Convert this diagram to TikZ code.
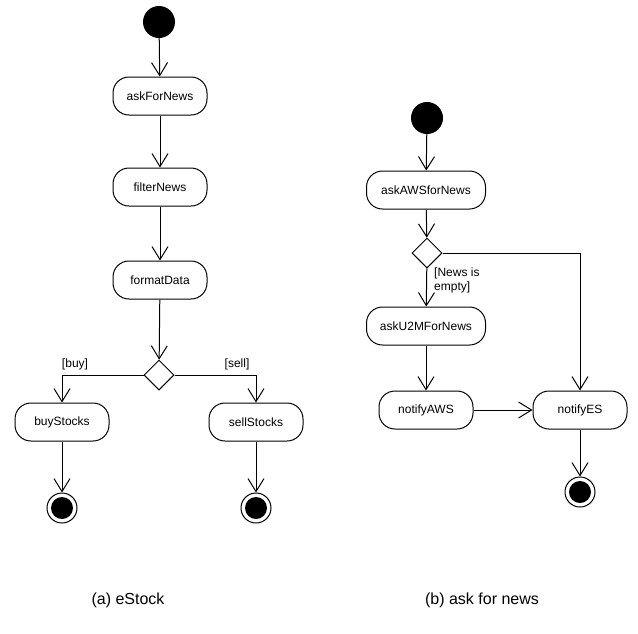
\documentclass[tikz,border=0pt]{standalone}
\usepackage{fontspec}
\setmainfont{Liberation Sans}
\usetikzlibrary{shapes,arrows.meta,calc}

\tikzset{
    action/.style={draw, line width=1pt, rounded corners=16pt,
        minimum width=94pt, minimum height=38pt, inner sep=0pt,
        font=\fontsize{12}{14}\selectfont},
    startnode/.style={circle, fill=black, minimum size=32pt, inner sep=0pt},
    endnode/.style={circle, draw, line width=1pt, minimum size=30pt, inner sep=0pt,
        path picture={\fill (path picture bounding box.center) circle (11pt);}},
    decision/.style={diamond, draw, line width=1pt, minimum width=30pt,
        minimum height=30pt, inner sep=0pt},
    flow/.style={line width=1pt, -{Straight Barb[length=13pt,width=16pt]}},
    guard/.style={font=\fontsize{12}{14}\selectfont},
    caption/.style={font=\fontsize{16}{18}\selectfont}
}

\begin{document}
\begin{tikzpicture}[x=1pt, y=-1pt]
        \useasboundingbox (0,0) rectangle (638,633);

        % (a) eStock
        \node[startnode] (startA) at (159,22) {};
        \node[action] (askNews) at (160,96) {askForNews};
        \node[action] (filterNews) at (160,187) {filterNews};
        \node[action] (formatData) at (160,280) {formatData};
        \node[decision] (decA) at (159,375) {};
        \node[action] (buyStocks) at (62,422) {buyStocks};
        \node[action] (sellStocks) at (256,422) {sellStocks};
        \node[endnode] (endBuy) at (62,508) {};
        \node[endnode] (endSell) at (256,508) {};

        \draw[flow] (startA) -- (askNews);
        \draw[flow] (askNews) -- (filterNews);
        \draw[flow] (filterNews) -- (formatData);
        \draw[flow] (formatData) -- (decA);
        \draw[flow] (decA.west) -| (buyStocks.north);
        \draw[flow] (decA.east) -| (sellStocks.north);
        \draw[flow] (buyStocks) -- (endBuy);
        \draw[flow] (sellStocks) -- (endSell);

        \node[guard] (buyGuard) at (75,364) {[buy]};
        \node[guard] (sellGuard) at (237,364) {[sell]};

        % (b) ask for news
        \node[startnode] (startB) at (427,118) {};
        \node[action, minimum width=119pt] (askAWS) at (426,190) {askAWSforNews};
        \node[decision] (decB) at (427,253) {};
        \node[action, minimum width=119pt] (askU2M) at (426,326) {askU2MForNews};
        \node[action] (notifyAWS) at (426,410) {notifyAWS};
        \node[action] (notifyES) at (580,410) {notifyES};
        \node[endnode] (endES) at (580,492) {};

        \draw[flow] (startB) -- (askAWS);
        \draw[flow] (askAWS) -- (decB);
        \draw[flow] (decB) -- (askU2M);
        \draw[flow] (decB.east) -| (notifyES.north);
        \draw[flow] (askU2M) -- (notifyAWS);
        \draw[flow] (notifyAWS) -- (notifyES);
        \draw[flow] (notifyES) -- (endES);

        \node[guard, anchor=north west, align=left, inner sep=0pt] (emptyGuard)
            at (434,268) {[News is\\empty]};

        % captions
        \node[caption] (capA) at (128,600) {(a) eStock};
        \node[caption] (capB) at (482,600) {(b) ask for news};
\end{tikzpicture}
\end{document}
